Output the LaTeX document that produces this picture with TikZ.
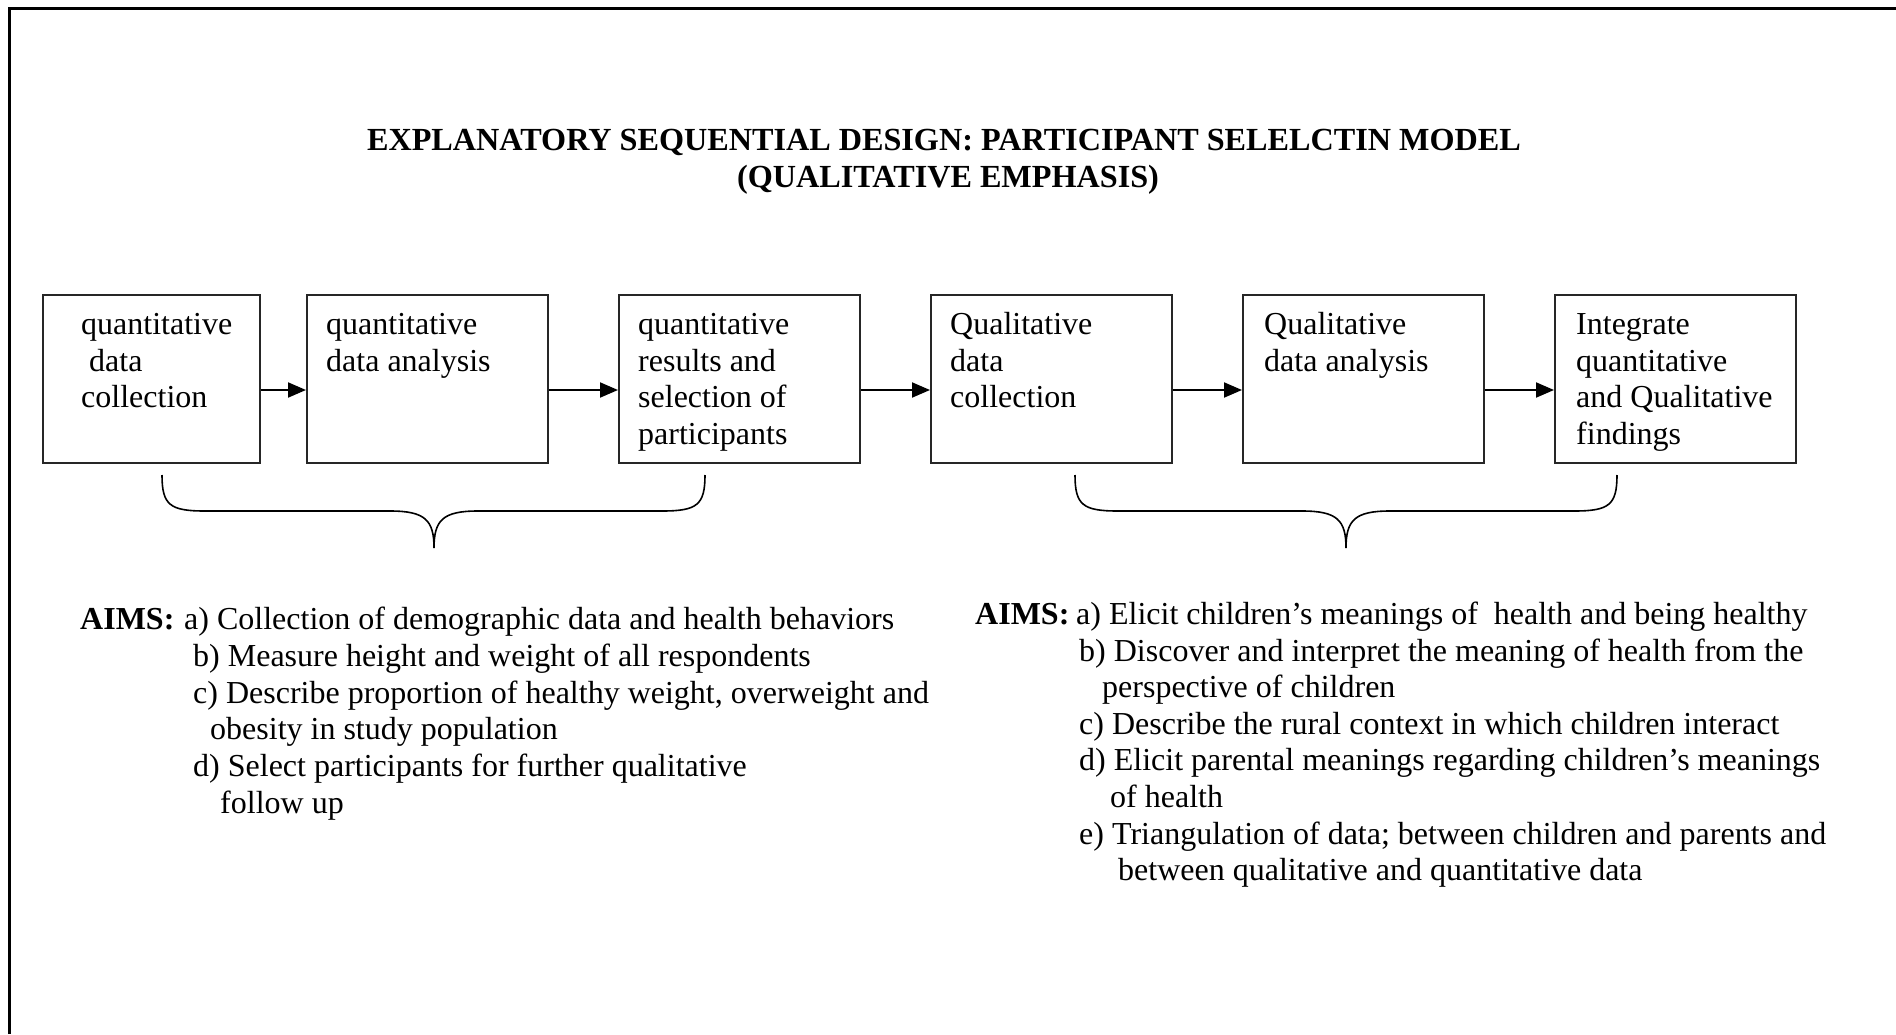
\documentclass[tikz,border=0pt]{standalone}
\usepackage{fontspec}
\setmainfont{Liberation Serif}
\usetikzlibrary{arrows.meta}
\begin{document}
\begin{tikzpicture}[x=1pt,y=-1pt,
  stagebox/.style={draw=black!85,line width=2pt,rectangle,minimum height=168pt,anchor=north west,inner sep=0pt},
  boxtext/.style={anchor=base west,align=left,inner sep=0pt,font=\fontsize{32}{36.6}\selectfont},
  aimtext/.style={anchor=base west,inner sep=0pt,font=\fontsize{32}{36.6}\selectfont},
  titletext/.style={anchor=base,inner sep=0pt,font=\bfseries\fontsize{32.2}{36}\selectfont},
  flow/.style={line width=2pt,-{Triangle[length=18pt,width=15pt]}},
  bracepath/.style={line width=1.6pt}]

\useasboundingbox (0,0) rectangle (1896,1034);

% frame
\draw[line width=3pt] (9,1034) -- (9,8) -- (1896,8);

% title
\node[titletext] (t1) at (944,150) {EXPLANATORY SEQUENTIAL DESIGN: PARTICIPANT SELELCTIN MODEL};
\node[titletext] (t2) at (948,187) {(QUALITATIVE EMPHASIS)};

% boxes
\node[stagebox,minimum width=217pt] (b1) at (42,294) {};
\node[stagebox,minimum width=241pt] (b2) at (306,294) {};
\node[stagebox,minimum width=241pt] (b3) at (618,294) {};
\node[stagebox,minimum width=241pt] (b4) at (930,294) {};
\node[stagebox,minimum width=241pt] (b5) at (1242,294) {};
\node[stagebox,minimum width=241pt] (b6) at (1554,294) {};

% box texts (anchored at the baseline of their last line)
\node[boxtext] (x1) at (81,407.7) {quantitative\\\hspace*{8pt}data\\collection};
\node[boxtext] (x2) at (326,371.1) {quantitative\\data analysis};
\node[boxtext] (x3) at (638,444.3) {quantitative\\results and\\selection of\\participants};
\node[boxtext] (x4) at (950,407.7) {Qualitative\\data\\collection};
\node[boxtext] (x5) at (1264,371.1) {Qualitative\\data analysis};
\node[boxtext] (x6) at (1576,444.3) {Integrate\\quantitative\\and Qualitative\\findings};

% arrows
\coordinate (ay) at (0,390);
\draw[flow] (b1.east |- ay) -- (b2.west |- ay);
\draw[flow] (b2.east |- ay) -- (b3.west |- ay);
\draw[flow] (b3.east |- ay) -- (b4.west |- ay);
\draw[flow] (b4.east |- ay) -- (b5.west |- ay);
\draw[flow] (b5.east |- ay) -- (b6.west |- ay);

% braces
\draw[bracepath] (162,475) .. controls (162,505) and (170,511) .. (205,511) -- (390,511)
  .. controls (425,511) and (434,520) .. (434,548)
  .. controls (434,520) and (443,511) .. (478,511) -- (662,511)
  .. controls (697,511) and (705,505) .. (705,475);
\draw[bracepath] (1075,475) .. controls (1075,505) and (1083,511) .. (1118,511) -- (1302,511)
  .. controls (1337,511) and (1346,520) .. (1346,548)
  .. controls (1346,520) and (1355,511) .. (1390,511) -- (1574,511)
  .. controls (1609,511) and (1617,505) .. (1617,475);

% left aims
\node[aimtext,font=\bfseries\fontsize{32}{36.6}\selectfont] (la) at (80,629) {AIMS:};
\node[aimtext] (l1) at (184,629) {a) Collection of demographic data and health behaviors};
\node[aimtext] (l2) at (193,666) {b) Measure height and weight of all respondents};
\node[aimtext] (l3) at (193,703) {c) Describe proportion of healthy weight, overweight and};
\node[aimtext] (l4) at (210,739) {obesity in study population};
\node[aimtext] (l5) at (193,776) {d) Select participants for further qualitative};
\node[aimtext] (l6) at (220,813) {follow up};

% right aims
\node[aimtext,font=\bfseries\fontsize{32}{36.6}\selectfont] (ra) at (975,624) {AIMS:};
\node[aimtext] (r1) at (1076,624) {a) Elicit children’s meanings of\ \ health and being healthy};
\node[aimtext] (r2) at (1079,661) {b) Discover and interpret the meaning of health from the};
\node[aimtext] (r3) at (1102,697) {perspective of children};
\node[aimtext] (r4) at (1079,734) {c) Describe the rural context in which children interact};
\node[aimtext] (r5) at (1079,770) {d) Elicit parental meanings regarding children’s meanings};
\node[aimtext] (r6) at (1110,807) {of health};
\node[aimtext] (r7) at (1079,844) {e) Triangulation of data; between children and parents and};
\node[aimtext] (r8) at (1118,880) {between qualitative and quantitative data};
\end{tikzpicture}
\end{document}
